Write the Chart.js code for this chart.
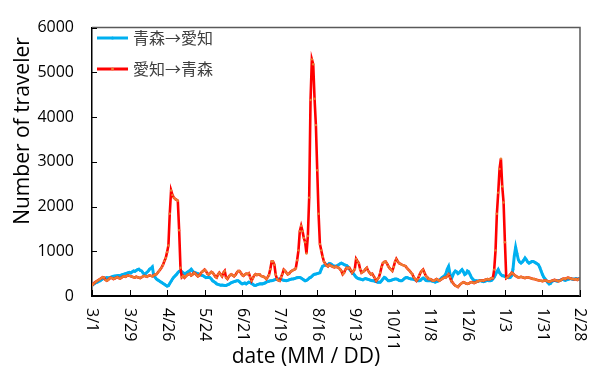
<!DOCTYPE html>
<html>
<head>
<meta charset="utf-8">
<script src="https://cdn.jsdelivr.net/npm/chart.js@4.4.1/dist/chart.umd.min.js"></script>
<style>
  html, body { margin: 0; padding: 0; background: #fff; }
  #wrap { width: 598px; height: 370px; }
</style>
</head>
<body>
<div id="wrap"><canvas id="c" width="598" height="370"></canvas></div>
<script>
// Daily travellers, 3/1 .. 2/28 (365 days)
const seriesNames = ['青森→愛知', '愛知→青森'];

const tickLabels = ['3/1', '3/29', '4/26', '5/24', '6/21', '7/19', '8/16',
                    '9/13', '10/11', '11/8', '12/6', '1/3', '1/31', '2/28'];
const tickStepDays = 28;
const yTicks = [0, 1000, 2000, 3000, 4000, 5000, 6000];

const aomoriToAichi = [
  235,260,280,300,310,330,340,360,385,390,
  400,410,405,410,420,430,440,445,450,455,
  460,450,470,480,490,500,510,520,530,515,
  540,560,550,570,590,600,570,560,520,485,
  500,530,560,600,620,650,470,420,380,360,
  340,320,300,280,260,240,220,230,280,330,
  380,420,450,480,520,550,560,540,520,500,
  510,530,550,570,600,560,530,520,510,500,
  485,470,460,450,430,410,420,415,410,380,
  340,320,300,270,260,250,240,245,240,235,
  235,250,260,280,300,310,320,330,340,340,
  320,290,270,280,290,270,290,310,300,280,
  260,240,235,250,260,270,275,270,280,290,
  310,320,330,340,340,350,360,370,375,380,
  380,370,360,350,345,340,350,360,370,380,
  380,390,400,410,415,415,400,380,360,340,
  350,370,400,415,440,470,485,490,500,510,
  520,600,665,680,690,700,700,730,720,700,
  665,670,665,680,700,720,735,720,700,690,
  680,650,600,560,520,500,460,420,400,385,
  380,370,360,380,390,380,370,360,350,340,
  340,330,320,310,310,310,340,380,415,400,
  370,340,340,350,360,370,380,380,370,350,
  340,340,360,390,410,415,400,390,380,380,
  370,360,350,340,340,350,380,400,380,350,
  340,340,340,340,330,320,310,320,330,350,
  380,410,430,450,500,600,660,500,380,450,
  520,560,540,500,520,560,590,540,480,500,
  560,540,480,415,380,350,340,340,330,340,
  340,330,320,330,340,350,340,340,350,380,
  420,480,540,590,520,480,450,450,430,420,
  415,410,415,450,600,900,1090,950,810,760,
  735,760,800,850,810,760,735,750,770,770,
  760,740,720,700,640,560,480,420,380,340,
  300,270,280,320,340,350,340,330,340,350,
  360,370,360,350,360,370,380,390,380,370,
  380,390,380,385,380
];

const aichiToAomori = [
  235,270,300,320,340,360,380,400,420,410,
  360,340,360,390,410,400,380,390,410,420,
  400,390,410,430,440,430,450,460,450,440,
  430,420,410,430,420,410,400,420,440,450,
  440,430,450,460,450,440,460,480,485,520,
  560,600,640,700,780,850,980,1130,1840,2360,
  2260,2200,2170,2150,2130,1470,630,420,450,410,
  440,470,485,500,460,480,520,500,470,440,
  460,500,540,560,590,560,500,480,510,540,
  520,480,430,410,480,520,480,440,520,560,
  410,380,430,470,485,460,440,470,520,560,
  560,520,470,450,480,500,490,510,420,340,
  400,460,490,470,480,485,450,440,430,410,
  380,420,470,600,770,770,700,480,380,350,
  340,420,490,590,560,520,485,500,540,560,
  580,590,620,800,1020,1450,1570,1450,1300,1200,
  950,1340,2200,4380,5290,5180,4410,3820,2810,1840,
  1160,1020,880,770,720,680,660,700,680,665,
  650,640,660,640,630,600,560,485,520,590,
  630,620,630,580,520,560,600,830,780,735,
  600,520,540,560,600,630,560,520,485,500,
  450,400,340,380,415,520,650,735,760,770,
  730,665,620,590,560,650,760,830,780,735,
  720,700,690,680,665,620,590,560,520,485,
  420,380,340,380,450,520,560,590,520,450,
  420,380,380,370,340,340,360,380,360,340,
  360,380,400,415,415,450,485,420,340,300,
  260,230,220,200,240,270,290,310,300,280,
  270,280,300,310,300,290,300,320,330,340,
  340,350,340,360,370,380,370,380,400,400,
  590,1020,1840,2310,2840,3070,2450,2090,1200,400,
  420,450,480,520,500,470,450,430,415,420,
  430,420,410,400,415,420,410,400,390,380,
  380,370,360,350,340,340,330,340,350,340,
  330,320,330,340,350,360,350,340,330,340,
  360,380,390,380,400,410,400,390,380,380,
  370,380,360,380,390
];

const toPoints = arr => arr.map((v, i) => ({ x: i, y: v }));

const LATIN = '"Open Sans", "Noto Sans", sans-serif';
const CJK = '"Noto Sans CJK JP", "Noto Sans", sans-serif';

// Frame, inward tick marks, vertical date labels, axis titles and legend
const decorations = {
  id: 'decorations',
  afterDraw(chart) {
    const { ctx, chartArea: a, scales: { x, y } } = chart;
    ctx.save();

    // top and right frame lines
    ctx.strokeStyle = '#595959';
    ctx.lineWidth = 1.5;
    ctx.beginPath();
    ctx.moveTo(a.left, a.top);
    ctx.lineTo(a.right, a.top);
    ctx.lineTo(a.right, a.bottom);
    ctx.stroke();

    // inward tick marks
    ctx.strokeStyle = '#000';
    ctx.lineWidth = 1;
    ctx.beginPath();
    y.ticks.forEach(t => {
      const py = Math.round(y.getPixelForValue(t.value)) + 0.5;
      ctx.moveTo(a.left, py);
      ctx.lineTo(a.left + 5, py);
    });
    x.ticks.forEach(t => {
      const px = Math.round(x.getPixelForValue(t.value)) + 0.5;
      ctx.moveTo(px, a.bottom);
      ctx.lineTo(px, a.bottom - 6);
    });
    ctx.stroke();

    // date labels, turned to read downward
    ctx.font = '16px ' + LATIN;
    ctx.fillStyle = '#000';
    ctx.textAlign = 'left';
    ctx.textBaseline = 'middle';
    x.ticks.forEach(t => {
      const label = tickLabels[Math.round(t.value / tickStepDays)];
      ctx.save();
      ctx.translate(x.getPixelForValue(t.value), a.bottom + 12);
      ctx.rotate(Math.PI / 2);
      ctx.fillText(label, 0, 0);
      ctx.restore();
    });

    // axis titles
    ctx.font = '21px ' + LATIN;
    ctx.textAlign = 'center';
    ctx.fillText('date (MM / DD)', 306, 357);
    ctx.save();
    ctx.translate(23, 131);
    ctx.rotate(-Math.PI / 2);
    ctx.fillText('Number of traveler', 0, 0);
    ctx.restore();

    // legend
    const rows = [38, 69];
    chart.data.datasets.forEach((ds, i) => {
      const ly = rows[i];
      ctx.strokeStyle = ds.borderColor;
      ctx.lineWidth = 3;
      ctx.beginPath();
      ctx.moveTo(a.left + 5, ly);
      ctx.lineTo(a.left + 36, ly);
      ctx.stroke();
      ctx.fillStyle = ds.pointBackgroundColor;
      ctx.beginPath();
      ctx.arc(a.left + 20.5, ly, 1.5, 0, Math.PI * 2);
      ctx.fill();
      ctx.fillStyle = '#404040';
      ctx.font = '16px ' + CJK;
      ctx.textAlign = 'left';
      ctx.textBaseline = 'middle';
      ctx.fillText(ds.label, a.left + 41, ly);
    });

    ctx.restore();
  }
};

new Chart(document.getElementById('c'), {
  type: 'line',
  data: {
    datasets: [
      {
        label: seriesNames[0],
        data: toPoints(aomoriToAichi),
        borderColor: '#00B0F0',
        backgroundColor: '#00B0F0',
        pointBackgroundColor: '#00B0F0',
        pointBorderWidth: 0,
        pointRadius: 1.3,
        borderWidth: 3,
        tension: 0,
        order: 1
      },
      {
        label: seriesNames[1],
        data: toPoints(aichiToAomori),
        borderColor: '#FF0000',
        backgroundColor: '#ED7D31',
        pointBackgroundColor: '#ED7D31',
        pointBorderWidth: 0,
        pointRadius: 1.2,
        borderWidth: 2.6,
        tension: 0,
        order: 0
      }
    ]
  },
  options: {
    responsive: false,
    animation: false,
    devicePixelRatio: 1,
    layout: { padding: { left: 0, top: 16, right: 18, bottom: 0 } },
    plugins: { legend: { display: false }, tooltip: { enabled: false } },
    scales: {
      x: {
        type: 'linear',
        min: 0,
        max: (tickLabels.length - 1) * tickStepDays,
        ticks: { display: false, stepSize: tickStepDays },
        grid: { display: false, drawTicks: false },
        border: { display: true, color: '#000', width: 2 },
        afterFit: s => { s.height = 74; }
      },
      y: {
        min: yTicks[0],
        max: yTicks[yTicks.length - 1],
        ticks: {
          stepSize: yTicks[1] - yTicks[0],
          color: '#000',
          font: { family: LATIN, size: 16 },
          padding: 18,
          callback: v => String(v)
        },
        grid: { display: false, drawTicks: false },
        border: { display: true, color: '#000', width: 1.5 },
        afterFit: s => { s.width = 92; }
      }
    }
  },
  plugins: [decorations]
});
</script>
</body>
</html>
